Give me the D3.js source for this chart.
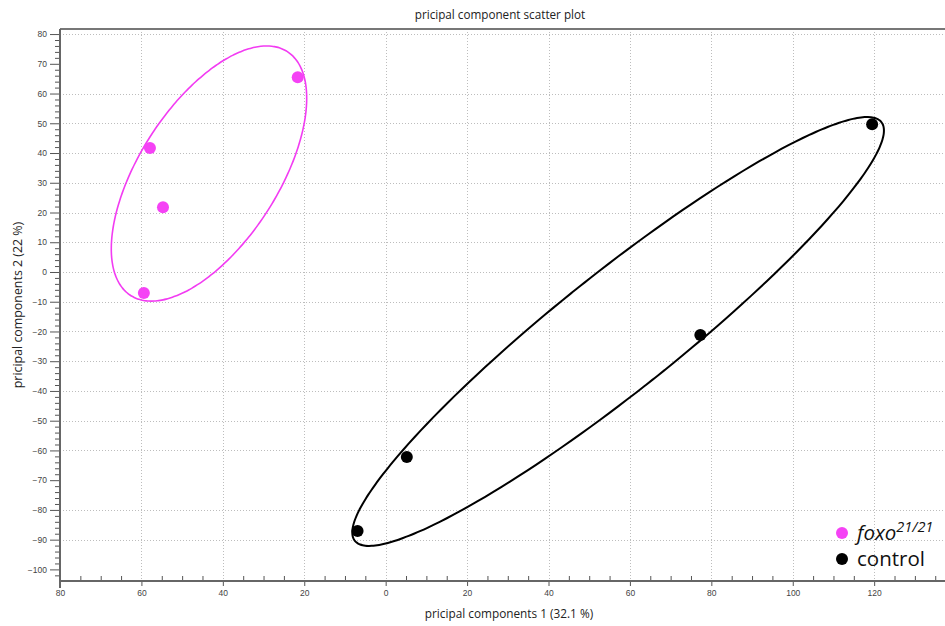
<!DOCTYPE html>
<html>
<head>
<meta charset="utf-8">
<script src="https://cdn.jsdelivr.net/npm/d3@7"></script>
<style>
  html, body { margin: 0; padding: 0; background: #fff; overflow: hidden; }
  .tick text { font-family: "Liberation Sans", Arial, sans-serif; font-size: 8.5px; fill: #444; }
</style>
</head>
<body>
<div id="chart"></div>
<script>
// PCA scores
const foxoPC1 = [-21.6, -57.9, -54.7, -59.4];
const foxoPC2 = [65.5, 41.7, 21.8, -7.1];
const controlPC1 = [119.5, 77.3, 5.2, -6.9];
const controlPC2 = [49.7, -21.2, -62.2, -87.1];

// ellipses: centre, spread along each axis, correlation
const foxoEllipse = { cx: -43.4, cy: 33.1, sx: 24.0, sy: 42.9, rho: 0.59 };
const controlEllipse = { cx: 57.1, cy: -20.0, sx: 65.3, sy: 72.1, rho: 0.937 };

const xTicks = [-80, -60, -40, -20, 0, 20, 40, 60, 80, 100, 120];
const yTicks = [80, 70, 60, 50, 40, 30, 20, 10, 0, -10, -20, -30, -40, -50, -60, -70, -80, -90, -100];
const yGridSkip = [70, -70, -100];

const width = 945, height = 626;
const margin = { top: 29, right: 0, bottom: 45, left: 60 };

const svg = d3.select('#chart')
  .append('svg')
  .attr('width', width)
  .attr('height', height)
  .style('display', 'block');

const x = d3.scaleLinear().domain([-80, 137.4]).range([margin.left, width - margin.right]);
const y = d3.scaleLinear().domain([-103.9, 81.7]).range([height - margin.bottom, margin.top]);

// grid
const grid = svg.append('g')
  .attr('stroke', '#bdbdbd')
  .attr('stroke-width', 1)
  .attr('stroke-dasharray', '1,2');

grid.selectAll('line.h')
  .data(yTicks.filter(d => !yGridSkip.includes(d)))
  .join('line')
  .attr('class', 'h')
  .attr('x1', x.range()[0]).attr('x2', x.range()[1])
  .attr('y1', d => Math.round(y(d)) + 0.5).attr('y2', d => Math.round(y(d)) + 0.5);

grid.selectAll('line.v')
  .data(xTicks.filter(d => d > -80))
  .join('line')
  .attr('class', 'v')
  .attr('x1', d => Math.round(x(d)) + 0.5).attr('x2', d => Math.round(x(d)) + 0.5)
  .attr('y1', y.range()[1]).attr('y2', y.range()[0]);

// top frame
svg.append('line')
  .attr('x1', x.range()[0]).attr('x2', x.range()[1])
  .attr('y1', y.range()[1]).attr('y2', y.range()[1])
  .attr('stroke', '#777').attr('stroke-width', 2);

// minor ticks
const yMinor = d3.range(-102, 81, 2).filter(d => d % 10 !== 0);
svg.append('g')
  .attr('transform', `translate(${x.range()[0]},0)`)
  .call(d3.axisLeft(y).tickValues(yMinor).tickSize(5).tickFormat(''))
  .call(g => g.select('.domain').remove())
  .call(g => g.selectAll('line').attr('stroke', '#555'));

const xMinor = d3.range(-75, 136, 5).filter(d => d % 20 !== 0);
svg.append('g')
  .attr('transform', `translate(0,${y.range()[0]})`)
  .call(d3.axisTop(x).tickValues(xMinor).tickSize(5).tickFormat(''))
  .call(g => g.select('.domain').remove())
  .call(g => g.selectAll('line').attr('stroke', '#555'));

// y axis
svg.append('g')
  .attr('transform', `translate(${x.range()[0]},0)`)
  .call(d3.axisLeft(y).tickValues(yTicks).tickSize(10).tickPadding(3).tickFormat(d3.format('d')))
  .call(g => g.select('.domain').remove())
  .call(g => g.selectAll('line').attr('stroke', '#555'));

// x axis
svg.append('g')
  .attr('transform', `translate(0,${y.range()[0]})`)
  .call(d3.axisBottom(x).tickValues(xTicks).tickSize(5).tickPadding(4).tickFormat(d => Math.abs(d)))
  .call(g => g.select('.domain').remove())
  .call(g => g.selectAll('line').attr('stroke', '#555'));

// axis lines
svg.append('line')
  .attr('x1', x.range()[0]).attr('x2', x.range()[0])
  .attr('y1', y.range()[1]).attr('y2', y.range()[0] + 7)
  .attr('stroke', '#666').attr('stroke-width', 2);
svg.append('line')
  .attr('x1', x.range()[0]).attr('x2', x.range()[1])
  .attr('y1', y.range()[0]).attr('y2', y.range()[0])
  .attr('stroke', '#666').attr('stroke-width', 2);

// ellipses
function ellipsePoints(e) {
  const k = Math.sqrt(1 - e.rho * e.rho);
  return d3.range(0, 360, 2).map(a => {
    const t = a * Math.PI / 180;
    return [e.cx + e.sx * Math.cos(t), e.cy + e.sy * (e.rho * Math.cos(t) + k * Math.sin(t))];
  });
}
const ellipseLine = d3.line()
  .x(d => x(d[0]))
  .y(d => y(d[1]))
  .curve(d3.curveCardinalClosed);

svg.append('path')
  .attr('d', ellipseLine(ellipsePoints(foxoEllipse)))
  .attr('fill', 'none')
  .attr('stroke', '#f23cf2')
  .attr('stroke-width', 1.6);

svg.append('path')
  .attr('d', ellipseLine(ellipsePoints(controlEllipse)))
  .attr('fill', 'none')
  .attr('stroke', '#000')
  .attr('stroke-width', 2);

// points
svg.append('g')
  .selectAll('circle')
  .data(d3.zip(foxoPC1, foxoPC2))
  .join('circle')
  .attr('cx', d => x(d[0]))
  .attr('cy', d => y(d[1]))
  .attr('r', 6)
  .attr('fill', '#f542f5');

svg.append('g')
  .selectAll('circle')
  .data(d3.zip(controlPC1, controlPC2))
  .join('circle')
  .attr('cx', d => x(d[0]))
  .attr('cy', d => y(d[1]))
  .attr('r', 6)
  .attr('fill', '#000');

// titles
svg.append('text')
  .attr('x', 500).attr('y', 19)
  .attr('text-anchor', 'middle')
  .attr('font-family', '"Open Sans", sans-serif')
  .attr('font-size', 11.7)
  .attr('fill', '#222')
  .text('pricipal component scatter plot');

svg.append('text')
  .attr('x', 509).attr('y', 618)
  .attr('text-anchor', 'middle')
  .attr('font-family', '"Open Sans", sans-serif')
  .attr('font-size', 11.8)
  .attr('fill', '#222')
  .text('pricipal components 1 (32.1 %)');

svg.append('text')
  .attr('transform', 'translate(22,305) rotate(-90)')
  .attr('text-anchor', 'middle')
  .attr('font-family', '"Open Sans", sans-serif')
  .attr('font-size', 12.4)
  .attr('fill', '#222')
  .text('pricipal components 2 (22 %)');

// legend
const legend = svg.append('g').attr('transform', 'translate(842,0)');
legend.append('circle').attr('cx', 0).attr('cy', 533).attr('r', 6).attr('fill', '#f542f5');
legend.append('circle').attr('cx', 0).attr('cy', 559).attr('r', 6).attr('fill', '#000');

const foxoLabel = legend.append('text')
  .attr('x', 15).attr('y', 540)
  .attr('font-family', '"Open Sans", sans-serif')
  .attr('font-size', 20.5)
  .attr('font-style', 'italic')
  .attr('fill', '#111');
foxoLabel.append('tspan').text('foxo');
foxoLabel.append('tspan').attr('dy', -8).attr('font-size', 14.5).text('21/21');

legend.append('text')
  .attr('x', 15).attr('y', 566)
  .attr('font-family', '"Open Sans", sans-serif')
  .attr('font-size', 20.5)
  .attr('fill', '#111')
  .text('control');
</script>
</body>
</html>
